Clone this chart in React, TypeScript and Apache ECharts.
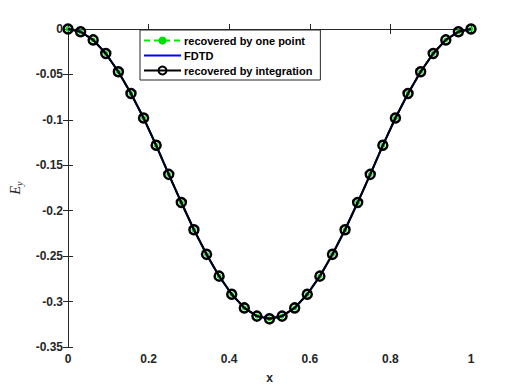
import React, { useEffect, useRef } from "react";
import * as echarts from "echarts";

const xs = [
  0, 0.03125, 0.0625, 0.09375, 0.125, 0.15625, 0.1875, 0.21875, 0.25, 0.28125, 0.3125,
  0.34375, 0.375, 0.40625, 0.4375, 0.46875, 0.5, 0.53125, 0.5625, 0.59375, 0.625,
  0.65625, 0.6875, 0.71875, 0.75, 0.78125, 0.8125, 0.84375, 0.875, 0.90625, 0.9375,
  0.96875, 1,
];
const eyOnePoint = [
  0, -0.003, -0.012, -0.027, -0.047, -0.071, -0.098, -0.128, -0.16, -0.191, -0.221,
  -0.248, -0.272, -0.292, -0.307, -0.316, -0.319, -0.316, -0.307, -0.292, -0.272,
  -0.248, -0.221, -0.191, -0.16, -0.128, -0.098, -0.071, -0.047, -0.027, -0.012,
  -0.003, 0,
];
const eyFdtd = [
  0, -0.003, -0.012, -0.027, -0.047, -0.071, -0.098, -0.128, -0.16, -0.191, -0.221,
  -0.248, -0.272, -0.292, -0.307, -0.316, -0.319, -0.316, -0.307, -0.292, -0.272,
  -0.248, -0.221, -0.191, -0.16, -0.128, -0.098, -0.071, -0.047, -0.027, -0.012,
  -0.003, 0,
];
const eyIntegration = [
  0, -0.003, -0.012, -0.027, -0.047, -0.071, -0.098, -0.128, -0.16, -0.191, -0.221,
  -0.248, -0.272, -0.292, -0.307, -0.316, -0.319, -0.316, -0.307, -0.292, -0.272,
  -0.248, -0.221, -0.191, -0.16, -0.128, -0.098, -0.071, -0.047, -0.027, -0.012,
  -0.003, 0,
];
const seriesNames = ["recovered by one point", "FDTD", "recovered by integration"];

const FONT = "'Liberation Sans', Arial, Helvetica, sans-serif";
const SERIF = "'Liberation Serif', 'Times New Roman', serif";
const AX = "#262626";

export default function App() {
  const ref = useRef<HTMLDivElement>(null);
  useEffect(() => {
    if (!ref.current) return;
    const chart = echarts.init(ref.current, null, { renderer: "svg" });
    const pair = (ys: number[]) => xs.map((x, i) => [x, ys[i]]);
    const fmt = (v: number) => String(Math.round(v * 1000) / 1000);
    const axisCommon = {
      axisLine: { show: true, lineStyle: { color: AX, width: 1 } },
      axisTick: { show: true, inside: true, length: 5, lineStyle: { color: AX } },
      splitLine: { show: false },
    };
    chart.setOption({
      animation: false,
      backgroundColor: "#ffffff",
      grid: { left: 68, right: 49, top: 29, bottom: 43 },
      legend: {
        orient: "vertical",
        left: 140,
        top: 30,
        itemWidth: 37,
        itemHeight: 10,
        itemGap: 4,
        padding: [5, 8, 4, 3],
        borderColor: AX,
        borderWidth: 1,
        backgroundColor: "#fff",
        textStyle: { fontFamily: FONT, fontWeight: "bold", fontSize: 11, color: "#000", padding: [0, 0, 0, -2] },
        data: [
          { name: seriesNames[0] },
          { name: seriesNames[1], itemStyle: { color: "rgba(0,0,0,0)", borderWidth: 0 } },
          { name: seriesNames[2] },
        ],
      },
      xAxis: [
        {
          type: "value",
          min: 0,
          max: 1,
          interval: 0.2,
          name: "x",
          nameLocation: "middle",
          nameGap: 25,
          nameTextStyle: { fontFamily: FONT, fontWeight: "bold", fontSize: 12, color: AX },
          axisLabel: { fontFamily: FONT, fontWeight: "bold", fontSize: 12, color: AX, margin: 6, formatter: fmt },
          ...axisCommon,
        },
        {
          type: "value",
          position: "top",
          min: 0,
          max: 1,
          interval: 0.2,
          axisLabel: { show: false },
          ...axisCommon,
        },
      ],
      yAxis: [
        {
          type: "value",
          min: -0.35,
          max: 0,
          interval: 0.05,
          name: "{e|E}{s|y}",
          nameLocation: "middle",
          nameGap: 44,
          nameRotate: 90,
          nameTextStyle: {
            rich: {
              e: { fontFamily: SERIF, fontStyle: "italic", fontSize: 14, color: AX },
              s: { fontFamily: SERIF, fontStyle: "italic", fontSize: 10, color: AX, padding: [8, 0, 0, 0] },
            },
          },
          axisLabel: { fontFamily: FONT, fontWeight: "bold", fontSize: 12, color: AX, margin: 5, formatter: fmt },
          ...axisCommon,
        },
        {
          type: "value",
          position: "right",
          min: -0.35,
          max: 0,
          interval: 0.05,
          axisLabel: { show: false },
          ...axisCommon,
        },
      ],
      series: [
        {
          name: seriesNames[0],
          type: "line",
          data: pair(eyOnePoint),
          z: 2,
          symbol: "circle",
          symbolSize: 5,
          itemStyle: { color: "#00dd00" },
          lineStyle: { color: "#00ee00", width: 2, type: [6, 4] },
        },
        {
          name: seriesNames[1],
          type: "line",
          data: pair(eyFdtd),
          z: 3,
          showSymbol: false,
          symbol: "none",
          itemStyle: { color: "#0000ff" },
          lineStyle: { color: "#0000ff", width: 2 },
        },
        {
          name: seriesNames[2],
          type: "line",
          data: pair(eyIntegration),
          z: 4,
          symbol: "circle",
          symbolSize: 9,
          itemStyle: { color: "rgba(0,0,0,0)", borderColor: "#000", borderWidth: 2.5 },
          lineStyle: { color: "#000", width: 2 },
        },
      ],
    });
    return () => chart.dispose();
  }, []);
  return <div ref={ref} style={{ width: 520, height: 390, position: "absolute", left: 0, top: 0 }} />;
}
